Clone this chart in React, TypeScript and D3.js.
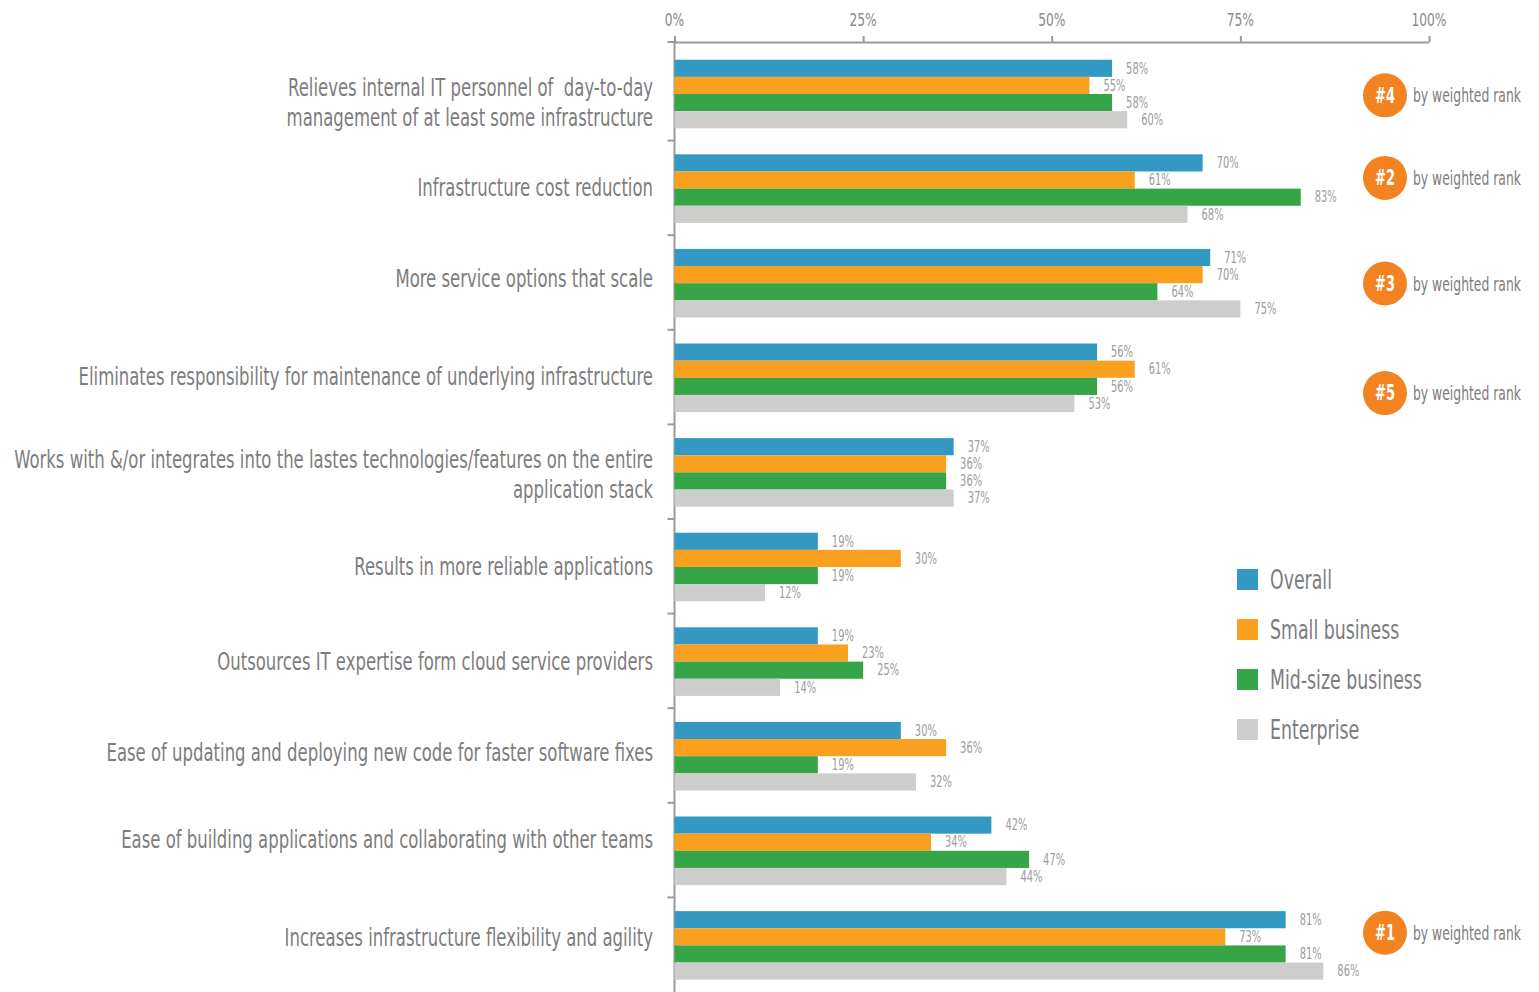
import { useEffect, useRef } from 'react';
import * as d3 from 'd3';

const categories = [
  'Relieves internal IT personnel of  day-to-day|management of at least some infrastructure',
  'Infrastructure cost reduction',
  'More service options that scale',
  'Eliminates responsibility for maintenance of underlying infrastructure',
  'Works with &/or integrates into the lastes technologies/features on the entire|application stack',
  'Results in more reliable applications',
  'Outsources IT expertise form cloud service providers',
  'Ease of updating and deploying new code for faster software fixes',
  'Ease of building applications and collaborating with other teams',
  'Increases infrastructure flexibility and agility',
];

const seriesNames = ['Overall', 'Small business', 'Mid-size business', 'Enterprise'];
const seriesColors = ['#3399c3', '#f9a01f', '#36a548', '#cdcdcb'];

const overall = [58, 70, 71, 56, 37, 19, 19, 30, 42, 81];
const smallBusiness = [55, 61, 70, 61, 36, 30, 23, 36, 34, 73];
const midSize = [58, 83, 64, 56, 36, 19, 25, 19, 47, 81];
const enterprise = [60, 68, 75, 53, 37, 12, 14, 32, 44, 86];

const ranks = ['#4', '#2', '#3', '#5', '', '', '', '', '', '#1'];
// small vertical nudges relative to the band centre, as laid out in the original
const rankNudge = [2, -10, 1, 16, 0, 0, 0, 0, 0, -12];
const labelNudge = [9, -1, -4, -1, 3, 0, 0, -3, -11, -7];

const xTicks = [0, 25, 50, 75, 100];

const FONT = '"DejaVu Sans Condensed", "Liberation Sans Narrow", "DejaVu Sans", sans-serif';
const TEXT = '#7d7d7d';

export default function App() {
  const svgRef = useRef<SVGSVGElement>(null);

  useEffect(() => {
    if (!svgRef.current) return;
    const svg = d3.select(svgRef.current);
    svg.selectAll('*').remove();

    const g = svg.append('g').style('font-family', FONT);

    // horizontal squeeze so the wide fallback font matches the condensed original
    const squeeze = (sample: string, size: number, target: number, weight = 'normal') => {
      const t = g
        .append('text')
        .style('font-size', `${size}px`)
        .style('font-weight', weight)
        .style('white-space', 'pre')
        .text(sample);
      const w = (t.node() as SVGTextElement).getComputedTextLength();
      t.remove();
      return w > 0 ? target / w : 1;
    };
    const kLabel = squeeze('Eliminates responsibility for maintenance of underlying infrastructure', 25, 575);
    const kTick = squeeze('100%', 18, 35);
    const kValue = squeeze('58%', 15, 22);
    const kRank = squeeze('by weighted rank', 20, 108);
    const kBadge = squeeze('#4', 21, 20, 'bold');
    const kLegend = squeeze('Mid-size business', 27, 152);

    const txt = (
      parent: d3.Selection<SVGGElement, unknown, null, undefined>,
      tx: number,
      ty: number,
      k: number,
      size: number,
      fill: string,
      anchor: string,
      s: string
    ) =>
      parent
        .append('text')
        .attr('transform', `translate(${tx},${ty}) scale(${k},1)`)
        .attr('dy', '0.35em')
        .attr('text-anchor', anchor)
        .attr('fill', fill)
        .style('font-size', `${size}px`)
        .style('white-space', 'pre')
        .text(s);

    const values = [overall, smallBusiness, midSize, enterprise];

    const x = d3.scaleLinear().domain([0, 100]).range([674.5, 1429]);
    const y = d3.scaleBand<number>().domain(d3.range(categories.length)).range([46, 992]);
    const bw = y.bandwidth();
    const ySub = d3
      .scaleBand<number>()
      .domain(d3.range(seriesNames.length))
      .range([bw * 0.145, bw * 0.87]);

    // top axis
    const top = g
      .append('g')
      .attr('transform', 'translate(0,42)')
      .call(d3.axisTop(x).tickValues(xTicks).tickSize(6).tickSizeOuter(0).tickFormat(() => ''));
    top.select('.domain').attr('stroke', '#9a9a9a').attr('stroke-width', 2);
    top.selectAll('.tick line').attr('stroke', '#9a9a9a').attr('stroke-width', 2);
    xTicks.forEach((t) => txt(g, x(t), 20, kTick, 18, '#8a8a8a', 'middle', `${t}%`));

    // left axis line with band separators
    g.append('line')
      .attr('x1', x(0))
      .attr('x2', x(0))
      .attr('y1', 42)
      .attr('y2', 992)
      .attr('stroke', '#9a9a9a')
      .attr('stroke-width', 2);
    g.selectAll('.sep')
      .data(d3.range(categories.length))
      .join('line')
      .attr('x1', x(0) - 7)
      .attr('x2', x(0))
      .attr('y1', (d) => (d === 0 ? 42 : y(d)!))
      .attr('y2', (d) => (d === 0 ? 42 : y(d)!))
      .attr('stroke', '#9a9a9a')
      .attr('stroke-width', 2);

    // bars
    categories.forEach((cat, i) => {
      const grp = g.append('g').attr('transform', `translate(0,${y(i)})`);
      values.forEach((vals, s) => {
        grp
          .append('rect')
          .attr('x', x(0))
          .attr('y', ySub(s)!)
          .attr('width', x(vals[i]) - x(0))
          .attr('height', ySub.bandwidth())
          .attr('fill', seriesColors[s]);
        txt(grp, x(vals[i]) + 14, ySub(s)! + ySub.bandwidth() / 2, kValue, 15, '#9c9c9c', 'start', `${vals[i]}%`);
      });

      const lines = cat.split('|');
      const cy = y(i)! + bw / 2;
      const lh = 30;
      lines.forEach((ln, k) => {
        txt(grp, 653, bw / 2 + labelNudge[i] + (k - (lines.length - 1) / 2) * lh, kLabel, 25, TEXT, 'end', ln);
      });

      if (ranks[i]) {
        const by = cy + rankNudge[i];
        g.append('circle').attr('cx', 1385).attr('cy', by).attr('r', 22).attr('fill', '#f38321');
        txt(g, 1385, by, kBadge, 21, '#fff', 'middle', ranks[i]).style('font-weight', 'bold');
        txt(g, 1413, by, kRank, 20, TEXT, 'start', 'by weighted rank');
      }
    });

    // legend
    const legend = g.append('g').attr('transform', 'translate(1237,569)');
    seriesNames.forEach((name, s) => {
      legend
        .append('rect')
        .attr('x', 0)
        .attr('y', s * 50)
        .attr('width', 21)
        .attr('height', 21)
        .attr('fill', seriesColors[s]);
      txt(legend, 33, s * 50 + 10.5, kLegend, 27, TEXT, 'start', name);
    });
  }, []);

  return (
    <svg
      ref={svgRef}
      width={1539}
      height={992}
      style={{ display: 'block', position: 'absolute', left: 0, top: 0, background: '#fff' }}
    />
  );
}
